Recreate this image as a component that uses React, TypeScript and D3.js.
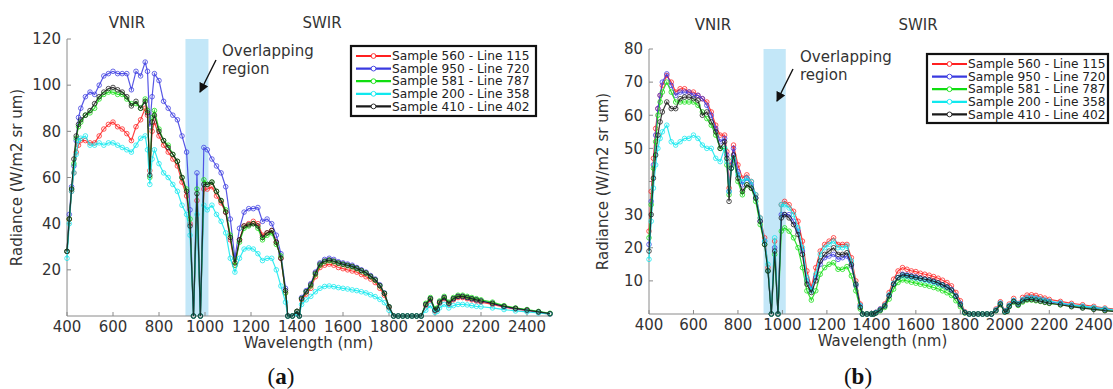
import * as d3 from 'd3';

// Shared wavelength grid (nm)
const WAVELENGTHS = [
  400, 410, 420, 430, 440, 450, 460, 480, 500, 520,
  540, 560, 580, 600, 620, 640, 660, 680, 700, 720,
  740, 750, 760, 770, 780, 800, 820, 840, 860, 880,
  900, 920, 935, 950, 965, 980, 995, 1010, 1030, 1050,
  1070, 1090, 1110, 1130, 1150, 1170, 1190, 1210, 1230, 1250,
  1270, 1290, 1310, 1330, 1350, 1360, 1380, 1400, 1410, 1420,
  1440, 1460, 1480, 1500, 1520, 1540, 1560, 1580, 1600, 1620,
  1640, 1660, 1680, 1700, 1720, 1740, 1760, 1780, 1800, 1820,
  1840, 1860, 1880, 1900, 1920, 1940, 1960, 1980, 2000, 2010,
  2020, 2040, 2060, 2080, 2100, 2120, 2140, 2160, 2180, 2200,
  2250, 2300, 2350, 2400, 2450, 2500,
];

const SERIES_NAMES = [
  'Sample 560 - Line 115',
  'Sample 950 - Line 720',
  'Sample 581 - Line 787',
  'Sample 200 - Line 358',
  'Sample 410 - Line 402',
];
const SERIES_COLORS = ['#ff2020', '#3a3ae0', '#10dd10', '#10e8ee', '#1a1a1a'];

// Panel (a)
const A_RED = [
  28, 42, 54, 62, 71, 74, 76, 76, 75, 75,
  78, 81, 83, 84, 82, 81, 79, 76, 82, 85,
  90, 87, 63, 80, 84, 78, 74, 71, 68, 65,
  58, 52, 40, 0, 50, 0, 55, 55, 56, 52,
  49, 45, 33, 22, 33, 39, 40, 41, 40, 35,
  36, 37, 32, 25, 10, 0, 0, 2, 0, 7,
  9.5, 12, 17, 21, 22, 22.5, 22, 21, 20.5, 20,
  19.5, 19, 18, 17, 16, 14.5, 12, 9, 3.5, 0,
  0, 0, 0, 0, 0, 0, 4.5, 7, 2.2, 2.8,
  5.5, 7.5, 5, 7, 8, 8, 7.5, 7, 6.5, 6,
  5, 3.8, 3, 2.3, 1.6, 0.8,
];
const A_BLUE = [
  28, 44, 56, 65, 76, 86, 90, 95, 97, 96,
  100, 104, 105, 106, 105, 105, 105, 98, 106, 104,
  110, 106, 82, 95, 105, 102, 93, 90, 87, 85,
  78, 71, 46, 0, 62, 0, 73, 72, 68, 65,
  62, 56, 42, 25, 38, 45, 46.5, 46.5, 47, 41,
  42, 40, 35, 27, 12, 0, 0, 2, 0, 8,
  11, 14, 19, 23, 24.5, 25, 24.5, 23.5, 23, 22.5,
  22, 21, 20, 19, 17.5, 16, 13.5, 10, 4, 0,
  0, 0, 0, 0, 0, 0, 5, 7.5, 2.5, 3,
  6, 8, 5.5, 7.5, 8.5, 8.5, 8, 7.5, 7, 6.5,
  5.5, 4, 3.2, 2.5, 1.8, 1,
];
const A_GREEN = [
  28, 42, 55, 66, 77, 82, 84, 87, 88, 90,
  94, 96, 97, 97, 96, 96, 94, 92, 92, 90,
  94, 89, 60, 86, 89, 81, 76, 74, 70, 67,
  60, 55, 42, 0, 55, 0, 59, 57, 58, 54,
  50, 46, 35, 22, 32, 38, 39, 40, 38, 33,
  35, 36, 31, 26, 10, 0, 0, 2, 0, 7.5,
  10.5, 13, 18, 22, 23.5, 24, 23.5, 22.8, 22.3, 21.8,
  21.3, 20.5, 19.5, 18.5, 17, 15.5, 13, 9.8, 4, 0,
  0, 0, 0, 0, 0, 0, 5.5, 8, 3, 3.5,
  6.5, 8.5, 6, 8, 9, 9, 8.5, 8, 7.5, 7,
  6, 4.5, 3.5, 2.8, 2, 1.2,
];
const A_CYAN = [
  25, 40, 54, 62, 70, 76, 77, 78, 74, 74,
  75, 74, 75, 75, 74, 73, 72, 71, 74, 77,
  78, 72, 57, 68, 72, 66, 62, 60, 57, 54,
  48, 44, 35, 0, 44, 0, 48, 46, 48, 44,
  41, 36, 25, 19, 25, 29, 29.5, 29, 27, 24,
  25, 25, 20, 13, 6, 0, 0, 1, 0, 5,
  7, 8.5, 10.5, 12, 12.8, 13, 12.7, 12.3, 12, 11.7,
  11.3, 11, 10.5, 10, 9.2, 8.4, 7.2, 5.8, 2.5, 0,
  0, 0, 0, 0, 0, 0, 2.5, 4.5, 1.5, 2,
  3.5, 5, 3.5, 4.5, 5, 5, 4.8, 4.5, 4.2, 4,
  3.5, 2.8, 2.2, 1.8, 1.3, 0.8,
];
const A_BLACK = [
  28, 42, 55, 68, 78, 83, 85, 87, 89, 92,
  95, 97, 98.5, 99, 98, 97, 95, 91, 93, 90,
  93, 88, 61, 84, 87, 80, 76, 73, 70, 67,
  60, 54, 39, 0, 53, 0, 57, 57, 58, 54,
  50, 45, 34, 23, 33, 39, 39.5, 40, 39, 34,
  36, 37, 32, 25, 11, 0, 0, 2, 0, 7.5,
  10.5, 13.5, 18.5, 22.5, 23.8, 24.3, 23.8, 23, 22.5, 22,
  21.5, 20.7, 19.7, 18.7, 17.2, 15.7, 13.2, 9.8, 4, 0,
  0, 0, 0, 0, 0, 0, 5, 7.5, 2.5, 3,
  6, 8, 5.5, 7.5, 8.5, 8.5, 8, 7.5, 7, 6.5,
  5.5, 4.2, 3.3, 2.6, 1.8, 1,
];

// Panel (b)
const B_RED = [
  25, 37, 47, 56, 62, 66, 69, 72, 70, 67,
  68, 68, 67, 67, 66, 65, 64, 61, 57, 54,
  54, 49, 38, 46, 51, 45, 41, 42, 40, 36,
  29, 23, 14, 0, 22, 0, 33, 34, 33, 31,
  28, 22, 13, 8, 14, 19, 21, 22, 23, 21,
  21, 21, 17, 10, 3, 0, 0, 0, 0, 0.5,
  1.5, 3, 6.5, 10.5, 13, 14, 13.5, 13, 12.8, 12.3,
  12, 11.7, 11.3, 10.8, 10.2, 9.5, 8.5, 6.5, 4, 0.7,
  0, 0, 0, 0, 0, 0, 1.5, 3.7, 1, 1.2,
  3, 4.7, 3.2, 5, 5.7, 5.8, 5.6, 5.2, 4.8, 4.4,
  3.8, 3.2, 2.8, 2.3, 1.8, 1.5,
];
const B_BLUE = [
  21, 34, 45, 54, 62, 66, 70, 72.5, 69, 66,
  67, 67, 67, 66, 66, 65, 63, 60, 56, 52,
  53, 48, 37, 45, 50, 43, 39, 41, 39, 35,
  28, 22, 13, 0, 20, 0, 30, 30, 30, 28,
  25, 19, 10, 7.5, 11, 15, 17, 17.5, 18, 16.5,
  17, 17.5, 14.5, 8.5, 2.5, 0, 0, 0, 0, 0.5,
  1.5, 2.5, 5.5, 9, 11, 12, 11.8, 11.5, 11.2, 10.8,
  10.5, 10.2, 9.8, 9.4, 8.8, 8.2, 7.4, 5.5, 3.2, 0.5,
  0, 0, 0, 0, 0, 0, 1.2, 3.2, 0.8, 1,
  2.5, 4, 3, 4.2, 4.8, 4.8, 4.6, 4.3, 4, 3.7,
  3.2, 2.6, 2.2, 1.8, 1.4, 1.1,
];
const B_GREEN = [
  23, 33, 44, 52, 60, 64, 67, 70, 67, 64,
  64, 64, 64, 64, 63, 61, 59, 57, 54, 50,
  50, 45, 36, 44, 47, 40, 36, 39, 38, 34,
  27, 21, 13, 0, 18, 0, 25, 26, 25, 23,
  20, 14, 7, 4.2, 7, 12, 14, 15, 15.5, 13.5,
  13.5, 14.3, 11.5, 7, 1.5, 0, 0, 0, 0, 0.3,
  1, 2, 4.5, 7.5, 9.5, 10.3, 10, 9.6, 9.3, 9,
  8.7, 8.4, 8, 7.6, 7, 6.4, 5.6, 4, 2.2, 0.3,
  0, 0, 0, 0, 0, 0, 1, 2.8, 0.6, 0.8,
  2.2, 3.6, 2.6, 3.6, 4.2, 4.2, 4, 3.8, 3.5, 3.2,
  2.8, 2.3, 1.9, 1.5, 1.1, 0.8,
];
const B_CYAN = [
  16.5, 28, 38, 45, 50, 53, 55, 57, 52, 51,
  52, 53, 53, 54, 53, 51, 50, 50, 47, 46,
  50, 46, 37, 44, 47, 42, 40, 41, 40, 36,
  29, 22, 15, 0, 23, 0, 33, 33, 32, 30,
  26, 20, 11, 7, 12, 18, 20, 21, 22, 20,
  20, 20.5, 16, 9, 2.5, 0, 0, 0, 0, 0.4,
  1.3, 2.6, 5.8, 9.3, 11, 11.5, 11.3, 11, 10.8, 10.5,
  10.2, 9.9, 9.5, 9.1, 8.6, 8, 7.2, 5.4, 3, 0.5,
  0, 0, 0, 0, 0, 0, 1.2, 3.3, 0.8, 1,
  2.6, 4.1, 3.1, 4.3, 4.9, 5, 4.8, 4.5, 4.2, 3.9,
  3.4, 2.8, 2.4, 2, 1.6, 1.2,
];
const B_BLACK = [
  19, 30, 41, 48, 54, 58, 61, 64, 62, 62,
  65, 65.5, 65.5, 65, 64.5, 60, 61, 58, 55, 50,
  52, 47, 34, 44, 48, 41, 37, 39, 38, 35,
  28, 21, 13, 0, 19, 0, 29, 30, 29, 27,
  24, 18, 9, 6.5, 10, 16, 18, 19, 20, 18,
  18, 18.5, 15, 9, 2, 0, 0, 0, 0, 0.3,
  1.2, 2.4, 5.5, 9, 11, 11.8, 11.6, 11.3, 11, 10.8,
  10.5, 10.3, 9.9, 9.4, 8.8, 8.1, 7.2, 5.3, 2.8, 0.4,
  0, 0, 0, 0, 0, 0, 1, 3, 0.6, 0.8,
  2.3, 3.8, 2.8, 3.9, 4.4, 4.4, 4.2, 3.9, 3.6, 3.3,
  2.8, 2.2, 1.8, 1.4, 1, 0.7,
];

const X_TICKS = [400, 600, 800, 1000, 1200, 1400, 1600, 1800, 2000, 2200, 2400];
const Y_TICKS_A = [20, 40, 60, 80, 100, 120];
const Y_TICKS_B = [10, 20, 30, 40, 50, 60, 70, 80];
const Y_TICK_LABELS_B = ['10', '20', '30', '', '50', '60', '70', '80'];
const OVERLAP = [915, 1015];

const FONT = '"DejaVu Sans", Verdana, sans-serif';

function Panel({ series, yMax, yTicks, yTickLabels, frame, legend, notes, caption }) {
  const x = d3.scaleLinear().domain([400, 2500]).range([frame.x0, frame.x1]);
  const y = d3.scaleLinear().domain([0, yMax]).range([frame.y1, frame.y0]);
  const line = d3.line<number>().x((_, i) => x(WAVELENGTHS[i])).y(d => y(d));
  const axisColor = '#8a8a8a';
  const textColor = '#333';

  return (
    <g>
      {/* overlapping region */}
      <rect x={x(OVERLAP[0])} y={y(yMax)} width={x(OVERLAP[1]) - x(OVERLAP[0])}
        height={y(0) - y(yMax)} fill="#c3e7f8" />

      {/* axes */}
      <line x1={x(400)} x2={x(400)} y1={y(0)} y2={y(yMax)} stroke={axisColor} />
      <line x1={x(400)} x2={x(2500)} y1={y(0)} y2={y(0)} stroke={axisColor} />
      {yTicks.map((t, i) => (
        <g key={t}>
          <line x1={x(400)} x2={x(400) + 4} y1={y(t)} y2={y(t)} stroke={axisColor} />
          <text x={x(400) - 6} y={y(t)} dy="0.35em" textAnchor="end" fontSize={15}
            fill={textColor}>{yTickLabels ? yTickLabels[i] : t}</text>
        </g>
      ))}
      {X_TICKS.map(t => (
        <g key={t}>
          <line x1={x(t)} x2={x(t)} y1={y(0)} y2={y(0) - 4} stroke={axisColor} />
          <text x={x(t)} y={y(0) + 16} textAnchor="middle" fontSize={15} fill={textColor}>{t}</text>
        </g>
      ))}
      <text x={(x(400) + x(2500)) / 2} y={y(0) + 32} textAnchor="middle" fontSize={15}
        fill={textColor}>Wavelength (nm)</text>
      <text transform={`translate(${frame.ylabelX},${(y(0) + y(yMax)) / 2}) rotate(-90)`}
        textAnchor="middle" fontSize={15} fill={textColor}>Radiance (W/m2 sr um)</text>

      {/* spectra */}
      {series.map((vals, s) => (
        <g key={s} stroke={SERIES_COLORS[s]} fill="none">
          <path d={line(vals)} strokeWidth={1.2} strokeOpacity={0.85} />
          {vals.map((v, i) => (
            <circle key={i} cx={x(WAVELENGTHS[i])} cy={y(v)} r={2.3} strokeWidth={1}
              strokeOpacity={0.75} />
          ))}
        </g>
      ))}

      {/* region labels */}
      <text x={notes.vnirX} y={notes.labelY} textAnchor="middle" fontSize={15} fill={textColor}>VNIR</text>
      <text x={notes.swirX} y={notes.labelY} textAnchor="middle" fontSize={15} fill={textColor}>SWIR</text>
      <text x={notes.textX} y={notes.textY} fontSize={15} fill={textColor}>Overlapping</text>
      <text x={notes.textX} y={notes.textY + 18} fontSize={15} fill={textColor}>region</text>
      <line x1={notes.arrow[0]} y1={notes.arrow[1]} x2={notes.arrow[2]} y2={notes.arrow[3]}
        stroke="#111" strokeWidth={1.4} markerEnd="url(#arrowHead)" />

      {/* legend */}
      <rect x={legend.x} y={legend.y} width={legend.w} height={legend.h} fill="#fff"
        stroke="#111" strokeWidth={2.2} />
      {SERIES_NAMES.map((name, s) => {
        const ry = legend.y + 10 + s * 12.6;
        return (
          <g key={name}>
            <line x1={legend.x + 5} x2={legend.x + 40} y1={ry} y2={ry} stroke={SERIES_COLORS[s]}
              strokeWidth={2.2} />
            <circle cx={legend.x + 22.5} cy={ry} r={2.4} fill="#fff" stroke={SERIES_COLORS[s]}
              strokeWidth={0.9} />
            <text x={legend.x + 41} y={ry} dy="0.35em" fontSize={12.2} fill="#222">{name}</text>
          </g>
        );
      })}

      {/* caption */}
      <text x={caption.x} y={384} textAnchor="middle" fontSize={23}
        fontFamily='"Liberation Serif", "DejaVu Serif", serif' fill="#111">
        (<tspan fontWeight="bold">{caption.letter}</tspan>)
      </text>
    </g>
  );
}

export default function App() {
  return (
    <svg width={1113} height={389}
      style={{ position: 'absolute', left: 0, top: 0, display: 'block', fontFamily: FONT }}>
      <defs>
        <marker id="arrowHead" viewBox="0 0 10 10" refX="9" refY="5" markerWidth="7"
          markerHeight="7" orient="auto-start-reverse">
          <path d="M0,0 L10,5 L0,10 z" fill="#111" />
        </marker>
      </defs>
      <rect width={1113} height={389} fill="#fff" />
      <Panel
        series={[A_RED, A_BLUE, A_GREEN, A_CYAN, A_BLACK]}
        yMax={120}
        yTicks={Y_TICKS_A}
        frame={{ x0: 67, x1: 550, y0: 39, y1: 316, ylabelX: 22 }}
        legend={{ x: 351, y: 46, w: 185, h: 70 }}
        notes={{ vnirX: 127, swirX: 322, labelY: 28, textX: 222, textY: 56,
          arrow: [216, 60, 200, 92] }}
        caption={{ x: 281, letter: 'a' }}
      />
      <Panel
        series={[B_RED, B_BLUE, B_GREEN, B_CYAN, B_BLACK]}
        yMax={80}
        yTicks={Y_TICKS_B}
        yTickLabels={Y_TICK_LABELS_B}
        frame={{ x0: 649, x1: 1116, y0: 49, y1: 314, ylabelX: 608 }}
        legend={{ x: 927, y: 54, w: 181, h: 69 }}
        notes={{ vnirX: 713, swirX: 918, labelY: 30, textX: 800, textY: 62,
          arrow: [793, 69, 777, 101] }}
        caption={{ x: 858, letter: 'b' }}
      />
    </svg>
  );
}
